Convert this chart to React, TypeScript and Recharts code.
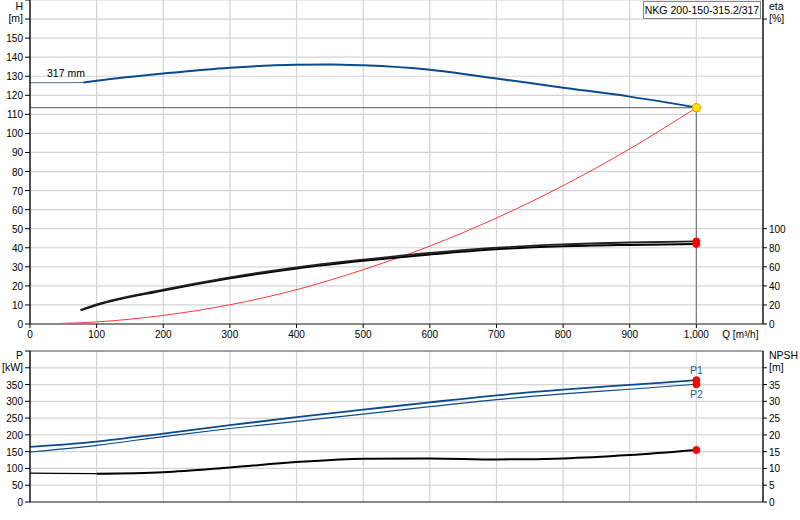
import React from "react";
import {
  LineChart,
  Line,
  XAxis,
  YAxis,
  CartesianGrid,
  ReferenceLine,
  ReferenceDot,
} from "recharts";

// axis ticks
const qTicks = [0, 100, 200, 300, 400, 500, 600, 700, 800, 900, 1000];
const hTicks = [0, 10, 20, 30, 40, 50, 60, 70, 80, 90, 100, 110, 120, 130, 140, 150, 160, 170];
const etaTicks = [0, 20, 40, 60, 80, 100, 320];
const pTicks = [0, 50, 100, 150, 200, 250, 300, 350, 400, 450];
const npshTicks = [0, 5, 10, 15, 20, 25, 30, 35, 40];

// head curve, 317 mm impeller
const headExtrap = [
  { q: 0, v: 126.6 },
  { q: 50, v: 126.6 },
  { q: 80, v: 126.7 },
];
const head = [
  { q: 80, v: 126.7 },
  { q: 100, v: 127.6 },
  { q: 200, v: 131.4 },
  { q: 300, v: 134.5 },
  { q: 400, v: 136.0 },
  { q: 450, v: 136.2 },
  { q: 500, v: 135.7 },
  { q: 600, v: 133.4 },
  { q: 700, v: 128.8 },
  { q: 800, v: 124.0 },
  { q: 900, v: 119.3 },
  { q: 1000, v: 113.6 },
];

// system curve
const system = [
  { q: 0, v: 0 },
  { q: 100, v: 1.1 },
  { q: 200, v: 4.5 },
  { q: 300, v: 10.1 },
  { q: 400, v: 18.0 },
  { q: 500, v: 28.5 },
  { q: 600, v: 40.9 },
  { q: 700, v: 55.6 },
  { q: 800, v: 72.6 },
  { q: 900, v: 91.9 },
  { q: 1000, v: 113.5 },
];

// efficiencies [%]
const etaPump = [
  { q: 76, v: 14.7 },
  { q: 100, v: 20.5 },
  { q: 200, v: 36.0 },
  { q: 300, v: 49.0 },
  { q: 400, v: 59.5 },
  { q: 500, v: 67.5 },
  { q: 600, v: 74.5 },
  { q: 700, v: 80.0 },
  { q: 800, v: 83.5 },
  { q: 900, v: 85.5 },
  { q: 1000, v: 86.7 },
];
const etaTotal = [
  { q: 76, v: 14.3 },
  { q: 100, v: 19.8 },
  { q: 200, v: 35.2 },
  { q: 300, v: 48.0 },
  { q: 400, v: 58.3 },
  { q: 500, v: 66.3 },
  { q: 600, v: 73.0 },
  { q: 700, v: 78.5 },
  { q: 800, v: 81.5 },
  { q: 900, v: 83.0 },
  { q: 1000, v: 84.0 },
];

// power [kW]
const p1 = [
  { q: 0, v: 164 },
  { q: 100, v: 180 },
  { q: 200, v: 204 },
  { q: 300, v: 229 },
  { q: 400, v: 253 },
  { q: 500, v: 275 },
  { q: 600, v: 297 },
  { q: 700, v: 318 },
  { q: 800, v: 335 },
  { q: 900, v: 349 },
  { q: 1000, v: 363 },
];
const p2 = [
  { q: 0, v: 149 },
  { q: 100, v: 169 },
  { q: 200, v: 195 },
  { q: 300, v: 219 },
  { q: 400, v: 240 },
  { q: 500, v: 262 },
  { q: 600, v: 284 },
  { q: 700, v: 305 },
  { q: 800, v: 322 },
  { q: 900, v: 336 },
  { q: 1000, v: 351 },
];

// NPSH [m]
const npshExtrap = [
  { q: 0, v: 8.6 },
  { q: 40, v: 8.55 },
  { q: 100, v: 8.45 },
];
const npsh = [
  { q: 100, v: 8.45 },
  { q: 200, v: 8.9 },
  { q: 300, v: 10.3 },
  { q: 400, v: 11.9 },
  { q: 500, v: 12.9 },
  { q: 600, v: 13.0 },
  { q: 700, v: 12.7 },
  { q: 800, v: 13.0 },
  { q: 900, v: 14.0 },
  { q: 1000, v: 15.5 },
];

const dutyQ = 1000;
const dutyH = 113.5;

const FONT = "'Liberation Sans', Arial, sans-serif";
const BLUE = "#0b4a8c";
const GRID = "#d4d4d4";
const last = (a: { q: number; v: number }[]) => a[a.length - 1];

function yTick(anchor: "start" | "end", unit: number, title: string, sub: string) {
  return (props: any) => {
    const { x, y, payload } = props;
    if (payload.value === unit) {
      return (
        <g>
          <text x={x} y={y} dy={-9} textAnchor={anchor} fontSize={10.5} fill="#000" fontFamily={FONT}>
            {title}
          </text>
          <text x={x} y={y} dy={3} textAnchor={anchor} fontSize={10.5} fill="#000" fontFamily={FONT}>
            {sub}
          </text>
        </g>
      );
    }
    if (payload.value > unit) return <g />;
    return (
      <text x={x} y={y} dy={4} textAnchor={anchor} fontSize={10} fill="#000" fontFamily={FONT}>
        {payload.value}
      </text>
    );
  };
}

const qTick = (props: any) => {
  const { x, y, payload } = props;
  return (
    <g>
      <text x={x} y={y} dy={8} textAnchor="middle" fontSize={10} fill="#000" fontFamily={FONT}>
        {payload.value.toLocaleString("en-US")}
      </text>
      {payload.value === 1000 && (
        <text x={x} y={y} dx={44} dy={8} textAnchor="middle" fontSize={10} fill="#000" fontFamily={FONT}>
          Q [m³/h]
        </text>
      )}
    </g>
  );
};

export default function App() {
  return (
    <div
      style={{
        position: "absolute",
        left: 0,
        top: 0,
        width: 800,
        height: 520,
        background: "#fff",
        fontFamily: FONT,
      }}
    >
      <div style={{ position: "absolute", left: 0, top: 0 }}>
        <LineChart width={800} height={350} margin={{ top: 0, right: 0, bottom: 0, left: 0 }}>
          <CartesianGrid yAxisId="h" stroke={GRID} strokeWidth={1.2} />
          <XAxis
            dataKey="q"
            type="number"
            domain={[0, 1100]}
            ticks={qTicks}
            height={26}
            tickSize={4}
            tickMargin={2}
            tick={qTick}
            axisLine={{ stroke: "#888", strokeWidth: 2 }}
            tickLine={{ stroke: "#000" }}
            allowDataOverflow
          />
          <YAxis
            yAxisId="h"
            type="number"
            domain={[0, 170]}
            ticks={hTicks}
            width={30}
            tickSize={5}
            tickMargin={2}
            tick={yTick("end", 160, "H", "[m]")}
            axisLine={{ stroke: "#000", strokeWidth: 1.3 }}
            tickLine={{ stroke: "#000" }}
            interval={0}
          />
          <YAxis
            yAxisId="eta"
            orientation="right"
            type="number"
            domain={[0, 340]}
            ticks={etaTicks}
            width={37}
            tickSize={4}
            tickMargin={2}
            tick={yTick("start", 320, "eta", "[%]")}
            axisLine={{ stroke: "#000", strokeWidth: 1.3 }}
            tickLine={{ stroke: "#000" }}
            interval={0}
          />
          <ReferenceLine
            yAxisId="h"
            segment={[
              { x: 0, y: dutyH },
              { x: dutyQ, y: dutyH },
            ]}
            stroke="#777"
            strokeWidth={1.2}
          />
          <ReferenceLine
            yAxisId="h"
            segment={[
              { x: dutyQ, y: 0 },
              { x: dutyQ, y: dutyH },
            ]}
            stroke="#777"
            strokeWidth={1.2}
          />
          <Line yAxisId="h" data={system} dataKey="v" type="monotone" stroke="#ff2020" strokeWidth={0.9} dot={false} isAnimationActive={false} />
          <Line yAxisId="eta" data={etaTotal} dataKey="v" type="monotone" stroke="#000" strokeWidth={2} dot={false} isAnimationActive={false} />
          <Line yAxisId="eta" data={etaPump} dataKey="v" type="monotone" stroke="#222" strokeWidth={1.8} dot={false} isAnimationActive={false} />
          <Line yAxisId="h" data={headExtrap} dataKey="v" type="monotone" stroke="#4d6f99" strokeWidth={1} dot={false} isAnimationActive={false} />
          <Line yAxisId="h" data={head} dataKey="v" type="monotone" stroke={BLUE} strokeWidth={2} dot={false} isAnimationActive={false} />
          <ReferenceDot
            yAxisId="h"
            x={54}
            y={head[0].v}
            r={0}
            stroke="none"
            label={{ value: "317 mm", position: "top", offset: 6, fontSize: 10.5, fill: "#000", fontFamily: FONT }}
          />
          <ReferenceDot yAxisId="eta" x={last(etaTotal).q} y={last(etaTotal).v} r={3.5} fill="#ff0000" stroke="#ff0000" />
          <ReferenceDot yAxisId="eta" x={last(etaPump).q} y={last(etaPump).v} r={3.5} fill="#ff0000" stroke="#ff0000" />
          <ReferenceDot yAxisId="h" x={dutyQ} y={dutyH} r={4} fill="#ffe600" stroke="#f2a000" strokeWidth={1.2} />
        </LineChart>
      </div>

      <div
        style={{
          position: "absolute",
          left: 643,
          top: 1,
          width: 116,
          height: 16,
          border: "1px solid #888",
          background: "#fff",
          fontSize: 10.5,
          lineHeight: "16px",
          textAlign: "center",
          color: "#000",
        }}
      >
        NKG 200-150-315.2/317
      </div>

      <div style={{ position: "absolute", left: 0, top: 336 }}>
        <LineChart width={800} height={184} margin={{ top: 15, right: 0, bottom: 0, left: 0 }}>
          <CartesianGrid yAxisId="p" stroke={GRID} strokeWidth={1.2} />
          <XAxis
            dataKey="q"
            type="number"
            domain={[0, 1100]}
            ticks={qTicks}
            height={18}
            tick={() => <g />}
            tickLine={false}
            axisLine={{ stroke: "#888", strokeWidth: 2 }}
            allowDataOverflow
          />
          <YAxis
            yAxisId="p"
            type="number"
            domain={[0, 450]}
            ticks={pTicks}
            width={30}
            tickSize={5}
            tickMargin={2}
            tick={yTick("end", 400, "P", "[kW]")}
            axisLine={{ stroke: "#000", strokeWidth: 1.3 }}
            tickLine={{ stroke: "#000" }}
            interval={0}
          />
          <YAxis
            yAxisId="npsh"
            orientation="right"
            type="number"
            domain={[0, 45]}
            ticks={npshTicks}
            width={37}
            tickSize={4}
            tickMargin={2}
            tick={yTick("start", 40, "NPSH", "[m]")}
            axisLine={{ stroke: "#000", strokeWidth: 1.3 }}
            tickLine={{ stroke: "#000" }}
            interval={0}
          />
          <ReferenceLine yAxisId="p" y={450} stroke="#888" strokeWidth={1.5} />
          <Line yAxisId="p" data={p2} dataKey="v" type="monotone" stroke={BLUE} strokeWidth={1.2} dot={false} isAnimationActive={false} />
          <Line yAxisId="p" data={p1} dataKey="v" type="monotone" stroke={BLUE} strokeWidth={1.8} dot={false} isAnimationActive={false} />
          <Line yAxisId="npsh" data={npshExtrap} dataKey="v" type="monotone" stroke="#000" strokeWidth={1.2} dot={false} isAnimationActive={false} />
          <Line yAxisId="npsh" data={npsh} dataKey="v" type="monotone" stroke="#000" strokeWidth={2} dot={false} isAnimationActive={false} />
          <ReferenceDot
            yAxisId="p"
            x={last(p1).q}
            y={last(p1).v}
            r={3.5}
            fill="#ff0000"
            stroke="#ff0000"
            label={{ value: "P1", position: "top", offset: 3, fontSize: 10.5, fill: "#1f5c9e", fontFamily: FONT }}
          />
          <ReferenceDot
            yAxisId="p"
            x={last(p2).q}
            y={last(p2).v}
            r={3.5}
            fill="#ff0000"
            stroke="#ff0000"
            label={{ value: "P2", position: "bottom", offset: 3, fontSize: 10.5, fill: "#1f5c9e", fontFamily: FONT }}
          />
          <ReferenceDot yAxisId="npsh" x={last(npsh).q} y={last(npsh).v} r={3.5} fill="#ff0000" stroke="#ff0000" />
        </LineChart>
      </div>
    </div>
  );
}
